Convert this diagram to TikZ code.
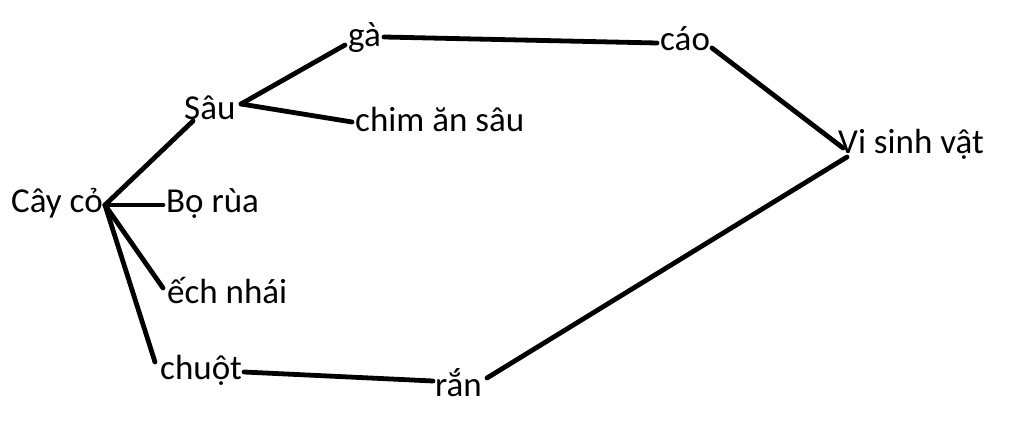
\documentclass[tikz,border=0pt]{standalone}
\usepackage{fontspec}
\setmainfont{Carlito}
\begin{document}
\begin{tikzpicture}[x=1pt,y=-1pt,
  lbl/.style={anchor=base west,inner sep=0pt,font=\fontsize{35}{38}\selectfont},
  link/.style={line width=4.8pt,line cap=round}]
\useasboundingbox[fill=white] (0,0) rectangle (1024,435);
% labels
\node[lbl] (cay) at (11,213) {Cây cỏ};
\node[lbl] (sau) at (184,120) {Sâu};
\node[lbl] (bo) at (166,213) {Bọ rùa};
\node[lbl] (ech) at (167,303) {ếch nhái};
\node[lbl] (chuot) at (160,379) {chuột};
\node[lbl] (ga) at (348,47) {gà};
\node[lbl] (chim) at (355,132) {chim ăn sâu};
\node[lbl] (cao) at (660,51) {cáo};
\node[lbl] (vsv) at (838,154) {Vi sinh vật};
\node[lbl] (ran) at (435,396) {rắn};
% connector ends
\coordinate (cayP) at (105,205);
\coordinate (sauIn) at (193,121);
\coordinate (sauOut) at (241,104);
\coordinate (boIn) at (163,205);
\coordinate (echIn) at (163,288);
\coordinate (chuotIn) at (155,362);
\coordinate (chuotOut) at (244,372);
\coordinate (gaIn) at (345,45);
\coordinate (gaOut) at (384,37);
\coordinate (chimIn) at (352,122);
\coordinate (caoIn) at (657,43);
\coordinate (caoOut) at (712,48);
\coordinate (vsvIn) at (843,148);
\coordinate (vsvOut) at (847,157);
\coordinate (ranIn) at (433,381);
\coordinate (ranOut) at (487,378);
% connectors
\draw[link] (cayP) -- (sauIn);
\draw[link] (cayP) -- (boIn);
\draw[link] (cayP) -- (echIn);
\draw[link] (cayP) -- (chuotIn);
\draw[link] (sauOut) -- (gaIn);
\draw[link] (sauOut) -- (chimIn);
\draw[link] (gaOut) -- (caoIn);
\draw[link] (caoOut) -- (vsvIn);
\draw[link] (vsvOut) -- (ranOut);
\draw[link] (chuotOut) -- (ranIn);
\end{tikzpicture}
\end{document}
